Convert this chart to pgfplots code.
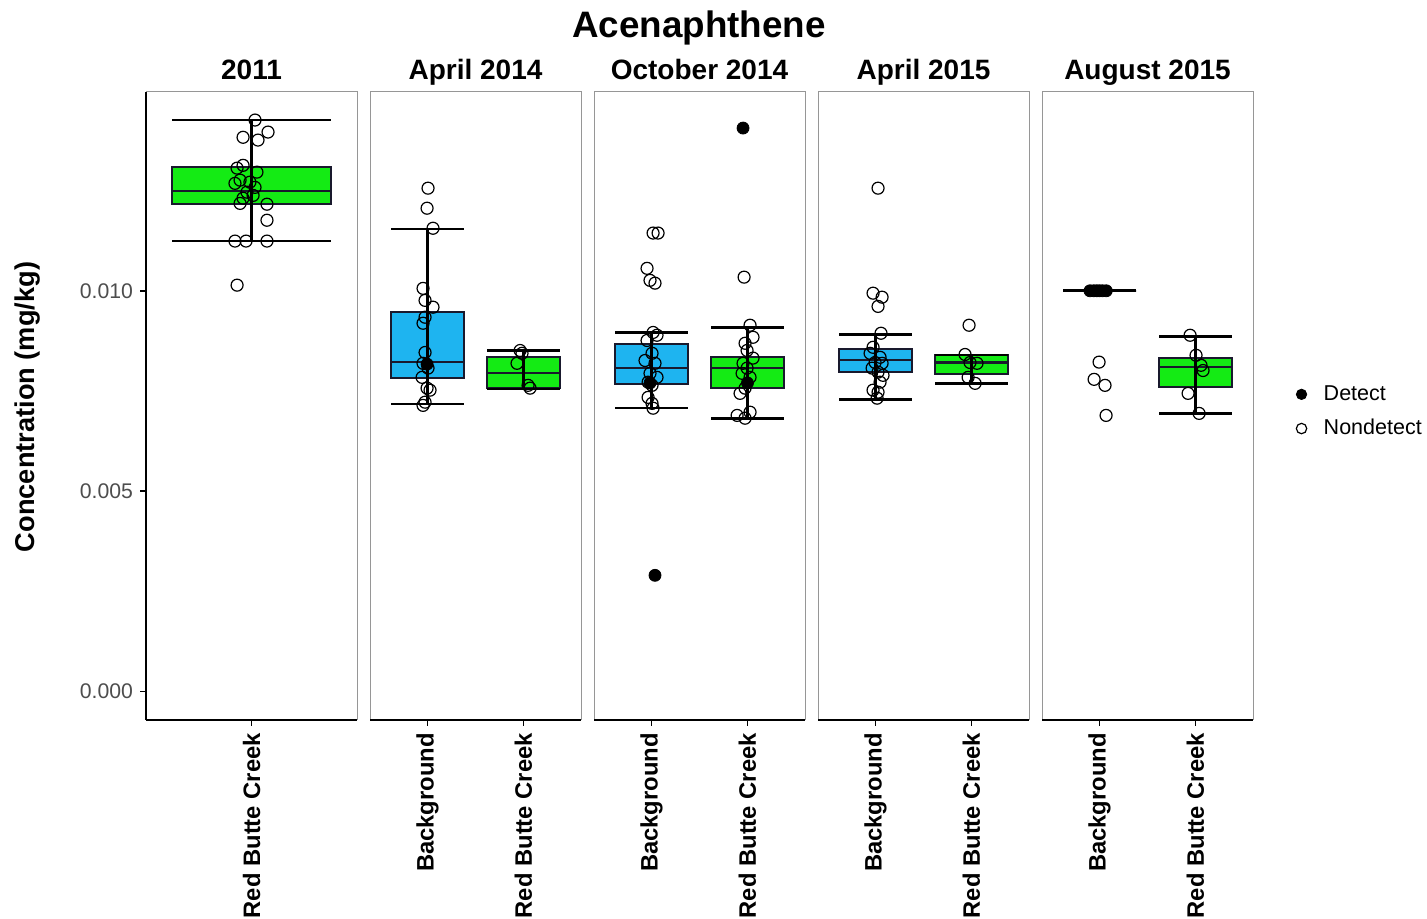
\documentclass[border=0pt]{standalone}
\usepackage{pgfplots}
\pgfplotsset{compat=1.18}
\usepackage{fontspec}
\setmainfont{Liberation Sans}
\definecolor{bgreen}{RGB}{20,235,20}
\definecolor{bblue}{RGB}{30,180,240}
\definecolor{boxedge}{RGB}{25,25,45}
\definecolor{panelgray}{RGB}{150,150,150}
\definecolor{ticklab}{RGB}{77,77,77}

% #1 left, #2 centre, #3 right, #4 lower whisker, #5 q1, #6 median, #7 q3, #8 upper whisker, #9 fill
\newcommand{\boxp}[9]{%
  \addplot[fill=#9, draw=boxedge, line width=1pt] coordinates {(#1,#5) (#3,#5) (#3,#7) (#1,#7)} -- cycle;
  \addplot[draw=boxedge, line width=1.1pt] coordinates {(#1,#6) (#3,#6)};
  \addplot[black, line width=1.3pt] coordinates {(#1,#4) (#3,#4)};
  \addplot[black, line width=1.3pt] coordinates {(#1,#8) (#3,#8)};
  \addplot[black, line width=1.1pt] coordinates {(#2,#4) (#2,#8)};
}

\pgfplotsset{
  panel/.style={
    scale only axis, width=105.5pt, height=314pt,
    ymin=-0.00071, ymax=0.01496,
    xmin=0.4, xmax=2.6,
    axis line style={draw=panelgray, line width=0.5pt},
    tick align=outside,
    xtick pos=bottom,
    x tick style={black, line width=0.8pt},
    major tick length=3pt,
    xticklabel style={rotate=90, anchor=east, font=\bfseries\fontsize{11.9}{12}\selectfont, black},
    ytick=\empty,
    scaled y ticks=false,
    title style={at={(0.5,1)}, anchor=base, yshift=0pt, inner sep=0pt, font=\bfseries\fontsize{14}{14}\selectfont},
    after end axis/.code={\draw[black, line width=1.1pt] (rel axis cs:0,0) -- (rel axis cs:1,0);},
    anchor=south west,
  },
  nd/.style={only marks, mark=o, mark size=3pt, black, mark options={line width=0.6pt}},
  dt/.style={only marks, mark=*, mark size=3pt, black},
}

\begin{document}
\begin{tikzpicture}
\path[use as bounding box] (0,0) rectangle (713.5pt,459.5pt);

% ---------- 2011 ----------
\begin{axis}[panel, at={(73pt,99.5pt)}, xmin=0.4, xmax=1.6,
  title={2011}, xtick={1}, xticklabels={Red Butte Creek},
  ytick={0,0.005,0.01}, ytick pos=left, y tick style={black, line width=0.8pt},
  yticklabel style={/pgf/number format/.cd, fixed, fixed zerofill, precision=3, assume math mode=true,
    /tikz/.cd, font=\fontsize{10.6}{11}\selectfont, text=ticklab},
  after end axis/.append code={\draw[black, line width=1.1pt] (rel axis cs:0,0) -- (rel axis cs:0,1);}]
\boxp{0.55}{1}{1.45}{0.01124}{0.01216}{0.01249}{0.01308}{0.01426}{bgreen}
\addplot[nd] coordinates {
(1.020,0.01426) (0.952,0.01383) (1.094,0.01396) (1.037,0.01376) (0.952,0.01313)
(0.918,0.01306) (1.031,0.01296) (0.935,0.01276) (0.991,0.01271) (0.906,0.01268)
(1.020,0.01258) (0.974,0.01246) (1.009,0.01238) (0.952,0.01231) (0.935,0.01218)
(1.088,0.01216) (1.088,0.01176) (0.906,0.01124) (0.969,0.01124) (1.088,0.01124)
(0.918,0.01014)};
\end{axis}

% ---------- April 2014 ----------
\begin{axis}[panel, at={(185pt,99.5pt)}, title={April 2014},
  xtick={1,2}, xticklabels={Background,Red Butte Creek}]
\boxp{0.62}{1}{1.38}{0.00717}{0.00782}{0.00822}{0.00946}{0.01154}{bblue}
\boxp{1.62}{2}{2.38}{0.00755}{0.00757}{0.00794}{0.00834}{0.00851}{bgreen}
\addplot[nd] coordinates {
(1.005,0.01256) (0.995,0.01206) (1.057,0.01156) (0.953,0.01006) (0.974,0.00976)
(1.057,0.00959) (0.974,0.00934) (0.953,0.00919) (0.974,0.00846) (0.953,0.00819)
(1.005,0.00807) (0.943,0.00784) (0.995,0.00757) (1.026,0.00752) (0.974,0.00722)
(0.953,0.00714)
(1.965,0.00851) (1.985,0.00844) (1.933,0.00819) (2.048,0.00764) (2.069,0.00757)};
\addplot[dt] coordinates {(0.995,0.00817)};
\end{axis}

% ---------- October 2014 ----------
\begin{axis}[panel, at={(297pt,99.5pt)}, title={October 2014},
  xtick={1,2}, xticklabels={Background,Red Butte Creek}]
\boxp{0.62}{1}{1.38}{0.00707}{0.00767}{0.00807}{0.00866}{0.00896}{bblue}
\boxp{1.62}{2}{2.38}{0.00682}{0.00757}{0.00807}{0.00834}{0.00909}{bgreen}
\addplot[nd] coordinates {
(1.016,0.01144) (1.068,0.01144) (0.953,0.01056) (0.984,0.01026) (1.036,0.01019)
(1.016,0.00896) (1.057,0.00889) (0.953,0.00876) (1.005,0.00844) (0.932,0.00826)
(1.036,0.00819) (0.984,0.00794) (1.057,0.00784) (0.964,0.00772) (1.005,0.00764)
(0.964,0.00734) (1.005,0.00719) (1.016,0.00707)
(1.965,0.01034) (2.027,0.00914) (2.058,0.00884) (1.975,0.00869) (1.996,0.00851)
(2.058,0.00832) (1.954,0.00819) (1.996,0.00807) (1.944,0.00794) (2.027,0.00784)
(1.975,0.00757) (1.923,0.00744) (2.027,0.00697) (1.892,0.00689) (1.975,0.00682)};
\addplot[dt] coordinates {(1.036,0.0029) (0.984,0.0077) (1.954,0.01406) (2.000,0.0077)};
\end{axis}

% ---------- April 2015 ----------
\begin{axis}[panel, at={(409pt,99.5pt)}, title={April 2015},
  xtick={1,2}, xticklabels={Background,Red Butte Creek}]
\boxp{0.62}{1}{1.38}{0.00729}{0.00797}{0.00827}{0.00854}{0.00891}{bblue}
\boxp{1.62}{2}{2.38}{0.00769}{0.00792}{0.00821}{0.00839}{0.0084}{bgreen}
\addplot[nd] coordinates {
(1.026,0.01256) (0.974,0.00994) (1.068,0.00984) (1.026,0.00961) (1.057,0.00894)
(0.974,0.00859) (0.943,0.00844) (1.047,0.00834) (0.995,0.00821) (1.068,0.00819)
(0.964,0.00807) (1.026,0.00797) (1.078,0.00789) (1.047,0.00772) (0.974,0.00752)
(1.026,0.00747) (1.016,0.00732)
(1.975,0.00914) (1.933,0.00841) (1.985,0.00821) (2.058,0.00819) (1.965,0.00784)
(2.038,0.00769)};
\end{axis}

% ---------- August 2015 ----------
\begin{axis}[panel, at={(521pt,99.5pt)}, title={August 2015},
  xtick={1,2}, xticklabels={Background,Red Butte Creek},
  legend style={at={(1.175,0.491)}, anchor=west, draw=none, fill=none,
    font=\fontsize{10.75}{11}\selectfont, row sep=4pt,
    /tikz/every odd column/.append style={column sep=6.5pt}},
  legend cell align=left]
\addlegendimage{only marks, mark=*, mark size=2.6pt, black}
\addlegendentry{Detect}
\addlegendimage{only marks, mark=o, mark size=2.6pt, black, mark options={line width=0.6pt}}
\addlegendentry{Nondetect}
\boxp{0.62}{1}{1.38}{0.01}{0.01}{0.01}{0.01}{0.01}{bblue}
\boxp{1.62}{2}{2.38}{0.00694}{0.00759}{0.00809}{0.00832}{0.00886}{bgreen}
\addplot[dt] coordinates {(0.90,0.01) (0.94,0.01) (0.97,0.01) (1.00,0.01) (1.03,0.01) (1.07,0.01)};
\addplot[nd] coordinates {
(0.995,0.00822) (0.943,0.00779) (1.057,0.00764) (1.068,0.00689)
(1.944,0.00889) (2.006,0.00839) (2.058,0.00814) (2.079,0.00801) (1.923,0.00744)
(2.038,0.00694)};
\end{axis}

\node[anchor=base, inner sep=0pt, font=\bfseries\fontsize{18.4}{18}\selectfont] at (349.5pt,440.5pt) {Acenaphthene};
\node[rotate=90, font=\bfseries\fontsize{13.6}{14}\selectfont] at (14pt,256pt) {Concentration (mg/kg)};
\end{tikzpicture}
\end{document}
